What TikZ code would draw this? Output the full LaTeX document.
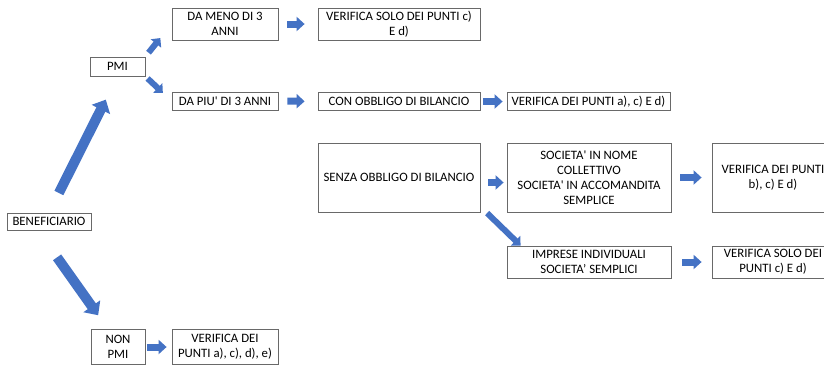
\documentclass[tikz,border=0pt]{standalone}
\usepackage{fontspec}
\setmainfont{Carlito}
\usepackage{tikz}
\usetikzlibrary{arrows.meta,positioning,calc}
\definecolor{arrowblue}{RGB}{68,114,196}
\definecolor{boxgray}{RGB}{105,105,105}
\newcommand{\qs}{\textquotesingle{}}

\begin{document}
\begin{tikzpicture}[x=1pt, y=-1pt, every node/.style={font=\fontsize{12.8}{15}\selectfont},
  box/.style 2 args={draw=boxgray, line width=.8pt, align=center, inner sep=0pt, minimum width=#1, minimum height=#2},
  bigarrow/.style={draw=arrowblue, line width=10pt, -{Triangle[length=11pt,width=20pt]}},
  diagarrow/.style={draw=arrowblue, line width=6pt, -{Triangle[length=7pt,width=13pt]}},
  flatarrow/.style={draw=arrowblue, line width=7pt, -{Triangle[length=8pt,width=14pt]}}]
\useasboundingbox (0,0) rectangle (824,365);
\clip (0,0) rectangle (824,365);

% boxes
\node[box={84pt}{17pt}] (benef) at (49,221.5) {BENEFICIARIO};
\node[box={55pt}{19pt}] (pmi) at (117.5,66.5) {PMI};
\node[box={106pt}{32pt}] (meno) at (225,24) {DA MENO DI 3\\ANNI};
\node[box={162pt}{32pt}] (verMeno) at (399,24) {VERIFICA SOLO DEI PUNTI c)\\E d)};
\node[box={106pt}{18pt}] (piu) at (225,101) {DA PIU\qs{} DI 3 ANNI};
\node[box={162pt}{18pt}] (con) at (399,101.5) {CON OBBLIGO DI BILANCIO};
\node[box={163pt}{18pt}] (verCon) at (588.5,101.5) {VERIFICA DEI PUNTI a), c) E d)};
\node[box={162pt}{69pt}] (senza) at (399,177.5) {SENZA OBBLIGO DI BILANCIO};
\node[box={164pt}{69pt}] (soc) at (589,177.5) {SOCIETA\qs{} IN NOME\\COLLETTIVO\\SOCIETA\qs{} IN ACCOMANDITA\\SEMPLICE};
\node[box={122pt}{69pt}] (verSoc) at (773,177.5) {VERIFICA DEI PUNTI\\b), c) E d)};
\node[box={164pt}{32pt}] (imp) at (589,262) {IMPRESE INDIVIDUALI\\SOCIETA’ SEMPLICI};
\node[box={122pt}{32pt}] (verImp) at (773,262) {VERIFICA SOLO DEI\\PUNTI c) E d)};
\node[box={54pt}{35pt}] (non) at (118,347) {NON\\PMI};
\node[box={106pt}{35pt}] (verNon) at (225,347) {VERIFICA DEI\\PUNTI a), c), d), e)};

% arrows
\draw[bigarrow, shorten <=22pt, shorten >=26pt] (benef.north) -- (pmi.south);
\draw[bigarrow, shorten <=33pt, shorten >=17pt] ([xshift=-11pt]benef.south) -- ([xshift=-10pt]non.north);
\draw[diagarrow, shorten <=5pt, shorten >=18pt] (pmi.north east) -- (meno.west);
\draw[diagarrow, shorten <=3pt, shorten >=12pt] (pmi.south east) -- (piu.west);
\draw[diagarrow, shorten <=1pt] ([xshift=6pt]senza.south east) -- ([xshift=14pt]imp.north west);
\draw[flatarrow, shorten <=9pt, shorten >=13pt] (meno.east) -- (verMeno.west);
\draw[flatarrow, shorten <=9pt, shorten >=13pt] (piu.east) -- (con.west);
\draw[flatarrow, shorten <=3pt, shorten >=4pt] (con.east) -- (verCon.west);
\draw[flatarrow, shorten <=8pt, shorten >=3pt] ([yshift=-5pt]senza.east) -- ([yshift=-5pt]soc.west);
\draw[flatarrow, shorten <=9pt, shorten >=10pt] (soc.east) -- (verSoc.west);
\draw[flatarrow, shorten <=11pt, shorten >=10pt] (imp.east) -- (verImp.west);
\draw[flatarrow, shorten <=2pt, shorten >=5pt] (non.east) -- (verNon.west);
\end{tikzpicture}
\end{document}
